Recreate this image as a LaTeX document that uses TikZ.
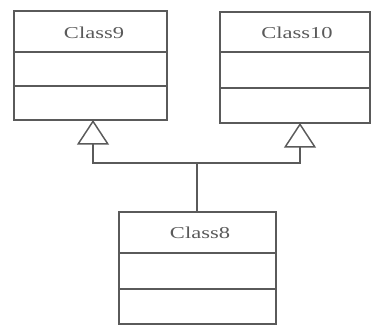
\documentclass[tikz,border=0pt]{standalone}
\usepackage{fontspec}
\setmainfont[FakeStretch=1.35]{Liberation Serif}
\usetikzlibrary{arrows.meta}
\definecolor{ink}{HTML}{5A5A5A}
\begin{document}
\begin{tikzpicture}[x=0.75pt,y=-0.75pt,
  classbox/.style={draw=ink, line width=1.1pt, fill=white, inner sep=0pt},
  divider/.style={draw=ink, line width=1.1pt},
  assoc/.style={draw=ink, line width=1.1pt},
  gen/.style={-{Triangle[open, length=18.5pt, width=24pt, line width=1.1pt]}},
  title/.style={text=ink, font=\fontsize{12.5}{15}\selectfont, inner sep=0pt}]
\useasboundingbox (0,0) rectangle (371,327);

% parent classes
\node[classbox, minimum width=153*0.75pt, minimum height=109*0.75pt] (c9) at (90.5,65.5) {};
\draw[divider] (14,52) -- (167,52);
\draw[divider] (14,86) -- (167,86);
\node[title] (t9) at (94,33) {Class9};

\node[classbox, minimum width=150*0.75pt, minimum height=111*0.75pt] (c10) at (295,67.5) {};
\draw[divider] (220,52) -- (370,52);
\draw[divider] (220,88) -- (370,88);
\node[title] (t10) at (297,33) {Class10};

% child class
\node[classbox, minimum width=157*0.75pt, minimum height=112*0.75pt] (c8) at (197.5,268) {};
\draw[divider] (119,253) -- (276,253);
\draw[divider] (119,289) -- (276,289);
\node[title] (t8) at (200,233) {Class8};

% generalization connectors
\coordinate (j) at (197,163);
\coordinate (a9) at (93,120);
\coordinate (a10) at (300,123);
\draw[assoc] (c8.north -| j) -- (j);
\draw[assoc, gen] (j) -- (93,163) -- (a9);
\draw[assoc, gen] (j) -- (300,163) -- (a10);
\end{tikzpicture}
\end{document}
